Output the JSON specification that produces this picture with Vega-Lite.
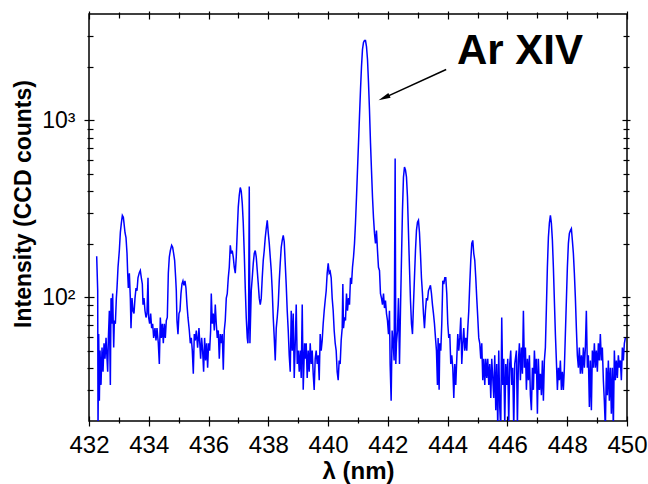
{
  "$schema": "https://vega.github.io/schema/vega-lite/v6.json",
  "width": 538,
  "height": 407,
  "autosize": {"type": "none"},
  "padding": {"left": 89, "top": 14, "right": 21, "bottom": 63},
  "background": "white",
  "config": {
    "font": "Liberation Sans",
    "view": {"stroke": "black", "strokeWidth": 1.5},
    "axis": {
      "grid": false,
      "domain": false,
      "tickColor": "black",
      "tickWidth": 1.2,
      "labelColor": "black",
      "titleColor": "black",
      "labelFont": "Liberation Sans",
      "titleFont": "Liberation Sans",
      "labelFlush": false,
      "labelOverlap": false
    }
  },
  "resolve": {"axis": {"x": "independent", "y": "independent"}},
  "layer": [
    {
      "data": {"values": [
{"w":432.257,"i":171},{"w":432.291,"i":109},{"w":432.302,"i":18},{"w":432.324,"i":62},{"w":432.347,"i":26},{"w":432.369,"i":50},{"w":432.402,"i":32},{"w":432.436,"i":52},{"w":432.469,"i":38},{"w":432.503,"i":55},{"w":432.536,"i":45},{"w":432.570,"i":59},{"w":432.603,"i":45},{"w":432.625,"i":38},{"w":432.648,"i":59},{"w":432.681,"i":84},{"w":432.714,"i":32},{"w":432.737,"i":99},{"w":432.770,"i":71},{"w":432.792,"i":105},{"w":432.826,"i":52},{"w":432.848,"i":74},{"w":432.882,"i":71},{"w":432.915,"i":99},{"w":432.937,"i":113},{"w":432.971,"i":148},{"w":433.015,"i":184},{"w":433.049,"i":233},{"w":433.082,"i":263},{"w":433.116,"i":291},{"w":433.149,"i":284},{"w":433.171,"i":263},{"w":433.205,"i":232},{"w":433.238,"i":218},{"w":433.272,"i":177},{"w":433.294,"i":137},{"w":433.316,"i":113},{"w":433.350,"i":137},{"w":433.383,"i":99},{"w":433.405,"i":67},{"w":433.439,"i":99},{"w":433.472,"i":84},{"w":433.506,"i":81},{"w":433.539,"i":99},{"w":433.573,"i":113},{"w":433.606,"i":109},{"w":433.639,"i":129},{"w":433.684,"i":138},{"w":433.717,"i":142},{"w":433.751,"i":129},{"w":433.784,"i":119},{"w":433.807,"i":91},{"w":433.840,"i":99},{"w":433.873,"i":84},{"w":433.907,"i":77},{"w":433.940,"i":81},{"w":433.974,"i":129},{"w":433.996,"i":77},{"w":434.029,"i":71},{"w":434.063,"i":81},{"w":434.096,"i":67},{"w":434.130,"i":71},{"w":434.163,"i":59},{"w":434.208,"i":67},{"w":434.241,"i":57},{"w":434.275,"i":67},{"w":434.319,"i":55},{"w":434.353,"i":42},{"w":434.386,"i":77},{"w":434.420,"i":59},{"w":434.453,"i":71},{"w":434.486,"i":55},{"w":434.520,"i":71},{"w":434.553,"i":59},{"w":434.587,"i":74},{"w":434.620,"i":77},{"w":434.654,"i":137},{"w":434.687,"i":169},{"w":434.721,"i":184},{"w":434.765,"i":197},{"w":434.799,"i":192},{"w":434.832,"i":177},{"w":434.865,"i":162},{"w":434.899,"i":129},{"w":434.921,"i":109},{"w":434.943,"i":74},{"w":434.977,"i":62},{"w":435.010,"i":81},{"w":435.044,"i":84},{"w":435.077,"i":105},{"w":435.111,"i":119},{"w":435.144,"i":124},{"w":435.177,"i":117},{"w":435.211,"i":124},{"w":435.244,"i":113},{"w":435.278,"i":91},{"w":435.311,"i":77},{"w":435.356,"i":65},{"w":435.389,"i":55},{"w":435.423,"i":59},{"w":435.456,"i":50},{"w":435.490,"i":37},{"w":435.523,"i":62},{"w":435.556,"i":57},{"w":435.590,"i":65},{"w":435.634,"i":52},{"w":435.679,"i":67},
{"w":435.735,"i":45},{"w":435.768,"i":59},{"w":435.802,"i":50},{"w":435.835,"i":38},{"w":435.868,"i":59},{"w":435.902,"i":44},{"w":435.935,"i":55},{"w":435.969,"i":40},{"w":436.002,"i":55},{"w":436.036,"i":50},{"w":436.069,"i":65},{"w":436.091,"i":105},{"w":436.125,"i":71},{"w":436.158,"i":81},{"w":436.192,"i":65},{"w":436.225,"i":91},{"w":436.258,"i":71},{"w":436.292,"i":59},{"w":436.325,"i":65},{"w":436.359,"i":45},{"w":436.392,"i":62},{"w":436.426,"i":55},{"w":436.459,"i":62},{"w":436.493,"i":39},{"w":436.526,"i":65},{"w":436.559,"i":74},{"w":436.593,"i":99},{"w":436.626,"i":105},{"w":436.660,"i":129},{"w":436.693,"i":148},{"w":436.727,"i":197},{"w":436.760,"i":177},{"w":436.793,"i":184},{"w":436.827,"i":169},{"w":436.860,"i":148},{"w":436.894,"i":137},{"w":436.927,"i":169},{"w":436.961,"i":239},{"w":436.994,"i":324},{"w":437.027,"i":378},{"w":437.061,"i":418},{"w":437.094,"i":398},{"w":437.128,"i":340},{"w":437.161,"i":263},{"w":437.195,"i":177},{"w":437.228,"i":113},{"w":437.261,"i":77},{"w":437.295,"i":59},{"w":437.317,"i":55},{"w":437.339,"i":74},{"w":437.362,"i":424},{"w":437.384,"i":55},{"w":437.406,"i":77},{"w":437.429,"i":109},{"w":437.462,"i":129},{"w":437.496,"i":156},{"w":437.529,"i":177},{"w":437.562,"i":184},{"w":437.596,"i":169},{"w":437.629,"i":142},{"w":437.663,"i":119},{"w":437.696,"i":99},{"w":437.730,"i":91},{"w":437.763,"i":99},{"w":437.796,"i":129},{"w":437.830,"i":162},{"w":437.863,"i":184},{"w":437.897,"i":218},{"w":437.930,"i":245},{"w":437.964,"i":273},{"w":437.997,"i":232},{"w":438.031,"i":202},{"w":438.064,"i":169},{"w":438.097,"i":142},{"w":438.131,"i":109},{"w":438.164,"i":77},{"w":438.198,"i":59},{"w":438.231,"i":44},{"w":438.265,"i":67},{"w":438.298,"i":77},{"w":438.331,"i":91},{"w":438.365,"i":124},{"w":438.398,"i":156},{"w":438.432,"i":192},{"w":438.465,"i":210},{"w":438.499,"i":224},{"w":438.532,"i":206},{"w":438.565,"i":156},{"w":438.599,"i":117},{"w":438.632,"i":84},{"w":438.666,"i":65},{"w":438.699,"i":47},{"w":438.733,"i":38},{"w":438.766,"i":84},{"w":438.799,"i":50},{"w":438.833,"i":81},{"w":438.866,"i":35},{"w":438.900,"i":55},{"w":438.933,"i":91},{"w":438.967,"i":42},{"w":439.000,"i":50},{"w":439.034,"i":38},{"w":439.067,"i":50},{"w":439.100,"i":35},{"w":439.134,"i":91},{"w":439.167,"i":30},{"w":439.212,"i":55},
{"w":439.233,"i":45},{"w":439.267,"i":55},{"w":439.300,"i":35},{"w":439.334,"i":50},{"w":439.367,"i":38},{"w":439.401,"i":55},{"w":439.434,"i":42},{"w":439.468,"i":50},{"w":439.501,"i":37},{"w":439.534,"i":30},{"w":439.568,"i":45},{"w":439.601,"i":50},{"w":439.635,"i":42},{"w":439.668,"i":47},{"w":439.702,"i":34},{"w":439.735,"i":62},{"w":439.768,"i":50},{"w":439.802,"i":57},{"w":439.835,"i":71},{"w":439.869,"i":84},{"w":439.902,"i":96},{"w":439.936,"i":109},{"w":439.969,"i":137},{"w":440.003,"i":156},{"w":440.036,"i":137},{"w":440.069,"i":140},{"w":440.103,"i":129},{"w":440.136,"i":99},{"w":440.170,"i":84},{"w":440.203,"i":65},{"w":440.237,"i":55},{"w":440.270,"i":50},{"w":440.303,"i":38},{"w":440.337,"i":34},{"w":440.370,"i":44},{"w":440.404,"i":42},{"w":440.437,"i":57},{"w":440.471,"i":67},{"w":440.493,"i":119},{"w":440.515,"i":67},{"w":440.549,"i":77},{"w":440.582,"i":74},{"w":440.615,"i":105},{"w":440.649,"i":84},{"w":440.682,"i":99},{"w":440.716,"i":91},{"w":440.749,"i":129},{"w":440.783,"i":119},{"w":440.816,"i":148},{"w":440.850,"i":169},{"w":440.883,"i":202},{"w":440.916,"i":263},{"w":440.950,"i":369},{"w":440.983,"i":525},{"w":441.017,"i":747},{"w":441.050,"i":1060},{"w":441.084,"i":1494},{"w":441.117,"i":2019},{"w":441.150,"i":2520},{"w":441.184,"i":2760},{"w":441.217,"i":2830},{"w":441.251,"i":2830},{"w":441.284,"i":2620},{"w":441.318,"i":2213},{"w":441.351,"i":1640},{"w":441.384,"i":1150},{"w":441.418,"i":747},{"w":441.451,"i":525},{"w":441.485,"i":369},{"w":441.518,"i":283},{"w":441.552,"i":230},{"w":441.585,"i":202},{"w":441.618,"i":239},{"w":441.652,"i":184},{"w":441.685,"i":148},{"w":441.719,"i":142},{"w":441.752,"i":105},{"w":441.786,"i":99},{"w":441.819,"i":91},{"w":441.853,"i":105},{"w":441.886,"i":87},{"w":441.919,"i":96},{"w":441.953,"i":81},{"w":441.986,"i":74},{"w":442.020,"i":62},{"w":442.053,"i":84},{"w":442.075,"i":42},{"w":442.109,"i":26},{"w":442.142,"i":65},{"w":442.176,"i":55},{"w":442.209,"i":44},{"w":442.243,"i":610},{"w":442.265,"i":42},{"w":442.287,"i":55},{"w":442.321,"i":65},{"w":442.354,"i":99},{"w":442.388,"i":42},{"w":442.421,"i":84},{"w":442.454,"i":162},{"w":442.488,"i":311},{"w":442.521,"i":478},{"w":442.555,"i":545},{"w":442.588,"i":525},
{"w":442.622,"i":478},{"w":442.655,"i":369},{"w":442.689,"i":232},{"w":442.722,"i":148},{"w":442.756,"i":96},{"w":442.789,"i":71},{"w":442.823,"i":62},{"w":442.856,"i":91},{"w":442.889,"i":129},{"w":442.923,"i":184},{"w":442.956,"i":239},{"w":442.990,"i":266},{"w":443.023,"i":273},{"w":443.057,"i":232},{"w":443.090,"i":177},{"w":443.123,"i":129},{"w":443.157,"i":105},{"w":443.190,"i":81},{"w":443.224,"i":67},{"w":443.257,"i":84},{"w":443.291,"i":99},{"w":443.324,"i":96},{"w":443.357,"i":109},{"w":443.391,"i":113},{"w":443.424,"i":117},{"w":443.458,"i":105},{"w":443.491,"i":91},{"w":443.525,"i":81},{"w":443.558,"i":71},{"w":443.592,"i":59},{"w":443.625,"i":50},{"w":443.658,"i":32},{"w":443.681,"i":59},{"w":443.714,"i":30},{"w":443.736,"i":55},{"w":443.770,"i":50},{"w":443.803,"i":71},{"w":443.837,"i":124},{"w":443.870,"i":119},{"w":443.904,"i":129},{"w":443.937,"i":129},{"w":443.970,"i":105},{"w":444.004,"i":71},{"w":444.037,"i":59},{"w":444.071,"i":62},{"w":444.104,"i":42},{"w":444.138,"i":47},{"w":444.171,"i":40},{"w":444.205,"i":27},{"w":444.238,"i":42},{"w":444.271,"i":32},{"w":444.305,"i":45},{"w":444.338,"i":62},{"w":444.372,"i":50},{"w":444.405,"i":59},{"w":444.439,"i":77},{"w":444.472,"i":42},{"w":444.505,"i":55},{"w":444.539,"i":67},{"w":444.572,"i":50},{"w":444.606,"i":59},{"w":444.639,"i":50},{"w":444.673,"i":67},{"w":444.706,"i":84},{"w":444.739,"i":119},{"w":444.773,"i":162},{"w":444.806,"i":202},{"w":444.840,"i":210},{"w":444.873,"i":177},{"w":444.907,"i":162},{"w":444.940,"i":129},{"w":444.973,"i":99},{"w":445.007,"i":77},{"w":445.040,"i":59},{"w":445.074,"i":55},{"w":445.107,"i":45},{"w":445.141,"i":55},{"w":445.174,"i":34},{"w":445.208,"i":45},{"w":445.241,"i":32},{"w":445.274,"i":45},{"w":445.308,"i":35},{"w":445.341,"i":45},{"w":445.375,"i":32},{"w":445.408,"i":42},{"w":445.442,"i":27},{"w":445.475,"i":45},{"w":445.509,"i":35},{"w":445.542,"i":27},{"w":445.575,"i":47},{"w":445.609,"i":23},{"w":445.642,"i":42},{"w":445.676,"i":18},{"w":445.709,"i":50},{"w":445.742,"i":24},{"w":445.776,"i":18},{"w":445.809,"i":77},{"w":445.843,"i":32},{"w":445.876,"i":45},{"w":445.910,"i":19},{"w":445.943,"i":42},{"w":445.977,"i":32},{"w":446.010,"i":45},{"w":446.043,"i":19},{"w":446.077,"i":42},{"w":446.110,"i":50},{"w":446.144,"i":32},{"w":446.177,"i":40},{"w":446.211,"i":18},{"w":446.244,"i":42},
{"w":446.300,"i":50},{"w":446.333,"i":19},{"w":446.367,"i":44},{"w":446.400,"i":55},{"w":446.434,"i":34},{"w":446.467,"i":52},{"w":446.501,"i":37},{"w":446.534,"i":84},{"w":446.567,"i":40},{"w":446.601,"i":52},{"w":446.634,"i":30},{"w":446.668,"i":45},{"w":446.701,"i":34},{"w":446.735,"i":47},{"w":446.768,"i":28},{"w":446.801,"i":23},{"w":446.835,"i":40},{"w":446.868,"i":30},{"w":446.902,"i":50},{"w":446.935,"i":37},{"w":446.969,"i":45},{"w":447.002,"i":22},{"w":447.035,"i":45},{"w":447.069,"i":30},{"w":447.102,"i":37},{"w":447.136,"i":28},{"w":447.169,"i":44},{"w":447.203,"i":26},{"w":447.236,"i":44},{"w":447.269,"i":52},{"w":447.303,"i":87},{"w":447.336,"i":148},{"w":447.370,"i":218},{"w":447.403,"i":263},{"w":447.437,"i":291},{"w":447.470,"i":263},{"w":447.504,"i":210},{"w":447.537,"i":148},{"w":447.570,"i":96},{"w":447.604,"i":62},{"w":447.637,"i":44},{"w":447.671,"i":30},{"w":447.704,"i":40},{"w":447.738,"i":34},{"w":447.771,"i":44},{"w":447.805,"i":30},{"w":447.838,"i":38},{"w":447.871,"i":30},{"w":447.905,"i":40},{"w":447.938,"i":62},{"w":447.972,"i":96},{"w":448.005,"i":148},{"w":448.039,"i":202},{"w":448.072,"i":230},{"w":448.105,"i":239},{"w":448.139,"i":245},{"w":448.172,"i":210},{"w":448.206,"i":177},{"w":448.239,"i":137},{"w":448.273,"i":99},{"w":448.306,"i":67},{"w":448.339,"i":47},{"w":448.373,"i":40},{"w":448.406,"i":52},{"w":448.440,"i":37},{"w":448.473,"i":47},{"w":448.507,"i":37},{"w":448.540,"i":52},{"w":448.574,"i":40},{"w":448.607,"i":52},{"w":448.640,"i":84},{"w":448.674,"i":40},{"w":448.707,"i":47},{"w":448.741,"i":24},{"w":448.774,"i":44},{"w":448.808,"i":23},{"w":448.841,"i":50},{"w":448.874,"i":40},{"w":448.908,"i":55},{"w":448.941,"i":40},{"w":448.975,"i":50},{"w":449.008,"i":38},{"w":449.042,"i":55},{"w":449.075,"i":44},{"w":449.108,"i":62},{"w":449.142,"i":44},{"w":449.175,"i":52},{"w":449.209,"i":34},{"w":449.242,"i":26},{"w":449.276,"i":18},{"w":449.309,"i":40},{"w":449.343,"i":28},{"w":449.376,"i":44},{"w":449.409,"i":26},{"w":449.443,"i":40},{"w":449.476,"i":22},{"w":449.510,"i":40},{"w":449.543,"i":18},{"w":449.577,"i":50},{"w":449.610,"i":34},{"w":449.644,"i":44},{"w":449.677,"i":35},{"w":449.711,"i":47},{"w":449.744,"i":40},{"w":449.778,"i":44},{"w":449.811,"i":34},{"w":449.845,"i":52},{"w":449.878,"i":44},{"w":449.912,"i":55},{"w":449.945,"i":59}
      ]},
      "mark": {"type": "line", "color": "#0000ff", "strokeWidth": 1.5, "clip": true},
      "encoding": {
        "x": {"field": "w", "type": "quantitative", "sort": null,
          "scale": {"domain": [432, 450], "nice": false, "zero": false},
          "axis": {"orient": "bottom", "values": [432, 434, 436, 438, 440, 442, 444, 446, 448, 450],
            "offset": -5, "tickSize": 10, "labelFontSize": 24, "labelPadding": 7, "format": "d",
            "title": "λ (nm)", "titleFontSize": 24, "titleFontWeight": "bold", "titleBaseline": "alphabetic", "titleY": 62}},
        "y": {"field": "i", "type": "quantitative",
          "scale": {"type": "log", "domain": [20, 4000], "nice": false},
          "axis": {"orient": "left", "values": [100, 1000], "offset": -5, "tickSize": 10,
            "labelFontSize": 23, "labelPadding": 9, "labelBaseline": "middle",
            "labelExpr": "datum.value == 100 ? '10²' : datum.value == 1000 ? '10³' : ''",
            "title": "Intensity (CCD counts)", "titleFontSize": 23, "titleFontWeight": "bold",
            "titleBaseline": "middle", "titleX": -71, "titleY": 189.5}}
      }
    },
    {
      "data": {"values": [{"w": 444.31, "i": 2073, "t": "Ar XIV"}]},
      "mark": {"type": "text", "font": "Liberation Sans", "fontSize": 42, "fontWeight": "bold", "align": "left", "baseline": "alphabetic", "color": "black"},
      "encoding": {
        "x": {"field": "w", "type": "quantitative",
          "axis": {"orient": "bottom", "values": [433, 435, 437, 439, 441, 443, 445, 447, 449], "offset": -4, "tickSize": 6, "labels": false, "title": null}},
        "y": {"field": "i", "type": "quantitative",
          "axis": {"orient": "left", "values": [30, 40, 50, 60, 70, 80, 90, 200, 300, 400, 500, 600, 700, 800, 900, 2000, 3000], "offset": -4, "tickSize": 6, "labels": false, "title": null}},
        "text": {"field": "t"}
      }
    },
    {
      "data": {"values": [{"w": 443.95, "i": 1941}, {"w": 441.87, "i": 1342}]},
      "mark": {"type": "line", "color": "black", "strokeWidth": 1.5},
      "encoding": {
        "x": {"field": "w", "type": "quantitative",
          "axis": {"orient": "top", "values": [432, 434, 436, 438, 440, 442, 444, 446, 448, 450], "offset": -5, "tickSize": 8, "labels": false, "title": null}},
        "y": {"field": "i", "type": "quantitative",
          "axis": {"orient": "right", "values": [100, 1000], "offset": -5, "tickSize": 8, "labels": false, "title": null}}
      }
    },
    {
      "data": {"values": [{"w": 441.87, "i": 1342}]},
      "mark": {"type": "point", "shape": "M0,-1L0.45,1L-0.45,1Z", "filled": true, "color": "black", "opacity": 1, "size": 144, "angle": 245.6, "strokeWidth": 0},
      "encoding": {
        "x": {"field": "w", "type": "quantitative",
          "axis": {"orient": "top", "values": [433, 435, 437, 439, 441, 443, 445, 447, 449], "offset": -4, "tickSize": 6, "labels": false, "title": null}},
        "y": {"field": "i", "type": "quantitative",
          "axis": {"orient": "right", "values": [30, 40, 50, 60, 70, 80, 90, 200, 300, 400, 500, 600, 700, 800, 900, 2000, 3000], "offset": -4, "tickSize": 6, "labels": false, "title": null}}
      }
    }
  ]
}
